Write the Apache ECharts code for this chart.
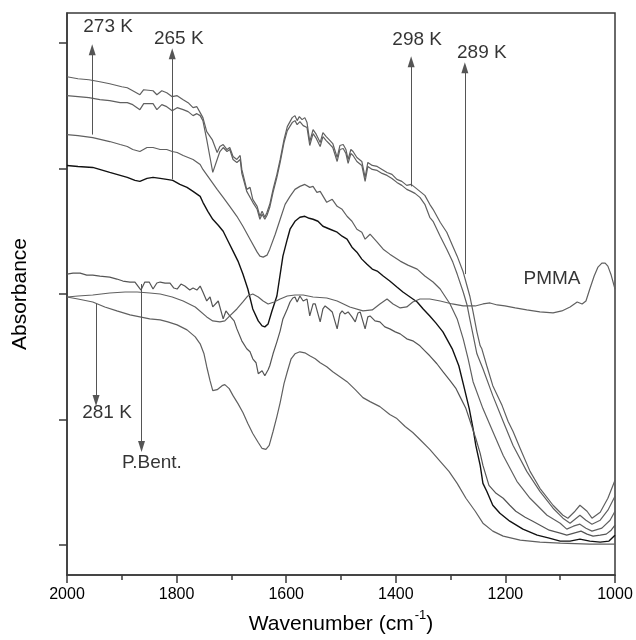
<!DOCTYPE html>
<html>
<head>
<meta charset="utf-8">
<script src="https://cdn.jsdelivr.net/npm/echarts@6/dist/echarts.min.js"></script>
<style>html,body{margin:0;padding:0;background:#fff}#c{width:636px;height:640px}</style>
</head>
<body>
<div id="c"></div>
<script>
// [wavenumber (cm-1), absorbance (arb. units)]
const s289 = [[2000,5.00],[1980,4.98],[1960,4.97],[1940,4.95],[1922,4.93],[1900,4.90],[1890,4.89],[1880,4.86],[1867,4.82],[1860,4.87],[1843,4.86],[1836,4.82],[1827,4.86],[1818,4.84],[1808,4.80],[1799,4.81],[1788,4.77],[1779,4.74],[1770,4.69],[1763,4.70],[1757,4.64],[1752,4.59],[1745,4.45],[1735,4.37],[1726,4.24],[1721,4.30],[1715,4.32],[1708,4.27],[1703,4.29],[1697,4.20],[1690,4.17],[1684,4.21],[1681,4.07],[1672,3.87],[1666,3.89],[1661,3.77],[1653,3.70],[1648,3.60],[1644,3.65],[1639,3.59],[1635,3.64],[1630,3.72],[1624,3.87],[1617,4.02],[1611,4.17],[1604,4.37],[1598,4.50],[1589,4.59],[1584,4.61],[1580,4.56],[1576,4.60],[1571,4.57],[1566,4.59],[1562,4.54],[1557,4.35],[1551,4.47],[1546,4.43],[1538,4.34],[1533,4.44],[1527,4.40],[1520,4.36],[1515,4.33],[1507,4.19],[1502,4.31],[1496,4.32],[1491,4.27],[1487,4.17],[1482,4.27],[1478,4.25],[1471,4.19],[1462,4.15],[1456,3.99],[1451,4.14],[1443,4.11],[1434,4.10],[1425,4.07],[1416,4.04],[1407,4.02],[1398,3.97],[1389,3.95],[1380,3.91],[1372,3.92],[1365,3.89],[1356,3.85],[1347,3.81],[1338,3.72],[1332,3.67],[1319,3.54],[1307,3.44],[1296,3.30],[1288,3.20],[1277,3.04],[1270,2.90],[1265,2.80],[1259,2.64],[1252,2.44],[1246,2.30],[1243,2.27],[1234,2.10],[1223,1.90],[1206,1.70],[1195,1.54],[1186,1.44],[1173,1.27],[1155,1.04],[1137,0.87],[1113,0.70],[1095,0.60],[1086,0.57],[1073,0.64],[1064,0.70],[1051,0.64],[1042,0.57],[1027,0.63],[1013,0.77],[1000,0.95]];
const s298 = [[2000,4.81],[1980,4.80],[1960,4.79],[1940,4.77],[1922,4.76],[1903,4.74],[1890,4.74],[1880,4.72],[1867,4.67],[1860,4.73],[1843,4.73],[1836,4.67],[1827,4.72],[1818,4.70],[1808,4.66],[1799,4.69],[1788,4.67],[1779,4.65],[1770,4.61],[1763,4.63],[1757,4.61],[1752,4.56],[1745,4.37],[1739,4.19],[1734,4.04],[1726,4.17],[1721,4.25],[1715,4.29],[1708,4.25],[1703,4.27],[1697,4.17],[1690,4.14],[1684,4.17],[1681,4.03],[1672,3.85],[1661,3.74],[1653,3.67],[1648,3.57],[1644,3.62],[1639,3.57],[1635,3.61],[1630,3.69],[1624,3.84],[1617,3.99],[1611,4.14],[1604,4.34],[1598,4.46],[1589,4.54],[1584,4.56],[1580,4.52],[1575,4.55],[1569,4.51],[1562,4.49],[1557,4.31],[1551,4.43],[1546,4.39],[1538,4.30],[1533,4.40],[1527,4.36],[1520,4.32],[1515,4.29],[1507,4.15],[1502,4.27],[1496,4.28],[1491,4.23],[1487,4.13],[1482,4.23],[1478,4.21],[1471,4.15],[1462,4.11],[1456,3.95],[1451,4.10],[1443,4.07],[1434,4.06],[1425,4.03],[1416,4.01],[1407,3.98],[1398,3.94],[1389,3.91],[1380,3.87],[1372,3.85],[1365,3.83],[1356,3.79],[1347,3.72],[1338,3.59],[1332,3.55],[1319,3.40],[1307,3.27],[1296,3.14],[1288,3.02],[1277,2.84],[1270,2.71],[1265,2.57],[1259,2.41],[1252,2.22],[1241,2.07],[1223,1.80],[1204,1.54],[1186,1.30],[1161,1.04],[1137,0.84],[1113,0.67],[1095,0.57],[1082,0.52],[1073,0.56],[1064,0.60],[1053,0.55],[1042,0.51],[1027,0.55],[1013,0.65],[1000,0.79]];
const s273 = [[2000,4.42],[1980,4.41],[1953,4.39],[1922,4.35],[1903,4.32],[1890,4.30],[1880,4.27],[1867,4.25],[1854,4.29],[1843,4.29],[1830,4.27],[1818,4.27],[1808,4.25],[1799,4.24],[1788,4.21],[1770,4.17],[1757,4.12],[1752,4.07],[1739,3.97],[1726,3.87],[1715,3.79],[1703,3.70],[1690,3.60],[1679,3.50],[1666,3.37],[1653,3.24],[1648,3.20],[1642,3.19],[1635,3.21],[1630,3.27],[1620,3.42],[1611,3.57],[1602,3.72],[1593,3.80],[1584,3.87],[1575,3.90],[1566,3.92],[1557,3.89],[1551,3.90],[1544,3.84],[1538,3.85],[1526,3.74],[1516,3.77],[1507,3.70],[1498,3.67],[1489,3.60],[1480,3.55],[1471,3.47],[1462,3.44],[1456,3.37],[1447,3.42],[1434,3.34],[1423,3.27],[1411,3.22],[1392,3.15],[1378,3.11],[1361,3.07],[1347,3.00],[1332,2.94],[1319,2.87],[1301,2.72],[1288,2.57],[1277,2.37],[1268,2.17],[1259,1.94],[1241,1.67],[1223,1.44],[1204,1.20],[1179,0.94],[1155,0.77],[1124,0.60],[1100,0.52],[1088,0.46],[1076,0.49],[1064,0.51],[1053,0.47],[1042,0.44],[1024,0.47],[1009,0.55],[1000,0.64]];
const s265 = [[2000,4.11],[1980,4.10],[1953,4.09],[1922,4.04],[1890,3.99],[1876,3.96],[1867,3.95],[1854,3.98],[1843,3.99],[1830,3.98],[1818,3.97],[1807,3.96],[1794,3.92],[1781,3.89],[1770,3.85],[1757,3.80],[1752,3.74],[1743,3.65],[1734,3.57],[1724,3.51],[1715,3.45],[1706,3.35],[1697,3.25],[1688,3.15],[1679,3.02],[1670,2.87],[1661,2.67],[1651,2.55],[1644,2.50],[1639,2.49],[1633,2.52],[1626,2.65],[1617,2.80],[1606,3.20],[1598,3.37],[1593,3.47],[1584,3.55],[1575,3.59],[1566,3.60],[1558,3.58],[1551,3.57],[1542,3.55],[1533,3.50],[1520,3.47],[1507,3.44],[1498,3.40],[1489,3.37],[1480,3.29],[1471,3.24],[1462,3.17],[1453,3.12],[1443,3.07],[1434,3.05],[1423,3.00],[1411,2.95],[1398,2.89],[1387,2.84],[1374,2.79],[1361,2.74],[1350,2.67],[1338,2.60],[1327,2.53],[1314,2.44],[1297,2.27],[1285,2.10],[1277,1.92],[1266,1.67],[1259,1.47],[1254,1.30],[1246,1.10],[1241,0.92],[1234,0.84],[1223,0.70],[1210,0.62],[1192,0.54],[1168,0.46],[1142,0.40],[1120,0.37],[1100,0.34],[1082,0.34],[1064,0.36],[1046,0.34],[1027,0.33],[1011,0.34],[1000,0.40]];
const sBent = [[2000,3.02],[1989,3.03],[1976,3.03],[1964,3.01],[1953,3.01],[1940,3.00],[1922,2.99],[1909,2.97],[1898,2.95],[1885,2.94],[1876,2.94],[1865,2.86],[1858,2.94],[1850,2.94],[1843,2.87],[1836,2.93],[1830,2.94],[1821,2.93],[1812,2.93],[1805,2.88],[1799,2.87],[1792,2.92],[1785,2.90],[1776,2.86],[1770,2.88],[1763,2.86],[1757,2.90],[1752,2.84],[1745,2.75],[1739,2.79],[1734,2.69],[1724,2.75],[1715,2.57],[1710,2.65],[1703,2.60],[1695,2.55],[1690,2.47],[1681,2.35],[1672,2.27],[1666,2.24],[1661,2.17],[1655,2.13],[1651,2.02],[1644,2.05],[1639,2.00],[1633,2.06],[1630,2.10],[1624,2.22],[1617,2.34],[1611,2.45],[1606,2.57],[1598,2.67],[1593,2.74],[1588,2.78],[1584,2.79],[1580,2.74],[1575,2.80],[1569,2.75],[1562,2.77],[1557,2.60],[1551,2.72],[1547,2.72],[1538,2.54],[1533,2.67],[1529,2.70],[1522,2.67],[1516,2.64],[1507,2.47],[1502,2.62],[1498,2.65],[1493,2.62],[1487,2.64],[1480,2.59],[1474,2.54],[1469,2.63],[1465,2.64],[1456,2.47],[1451,2.59],[1447,2.60],[1438,2.55],[1429,2.54],[1420,2.49],[1411,2.47],[1401,2.44],[1392,2.42],[1380,2.37],[1369,2.35],[1356,2.30],[1347,2.25],[1338,2.20],[1325,2.12],[1314,2.04],[1301,1.95],[1290,1.87],[1281,1.77],[1272,1.67],[1263,1.52],[1254,1.37],[1246,1.22],[1241,1.10],[1230,0.90],[1217,0.82],[1204,0.77],[1192,0.70],[1181,0.64],[1164,0.58],[1150,0.54],[1120,0.45],[1100,0.42],[1088,0.40],[1075,0.42],[1062,0.44],[1051,0.41],[1040,0.39],[1027,0.40],[1016,0.41],[1007,0.45],[1000,0.50]];
const sPMMA = [[2000,2.79],[1980,2.80],[1953,2.81],[1922,2.83],[1894,2.84],[1872,2.84],[1849,2.83],[1830,2.82],[1808,2.79],[1788,2.75],[1766,2.69],[1745,2.59],[1734,2.55],[1721,2.54],[1712,2.55],[1703,2.60],[1690,2.67],[1679,2.74],[1670,2.80],[1661,2.82],[1651,2.79],[1642,2.75],[1633,2.72],[1622,2.74],[1611,2.77],[1598,2.80],[1584,2.81],[1569,2.81],[1551,2.79],[1526,2.78],[1507,2.75],[1484,2.69],[1460,2.65],[1443,2.66],[1429,2.72],[1416,2.77],[1405,2.72],[1392,2.68],[1380,2.69],[1369,2.74],[1356,2.77],[1338,2.77],[1319,2.75],[1297,2.72],[1277,2.70],[1255,2.70],[1241,2.72],[1228,2.73],[1215,2.71],[1201,2.70],[1182,2.68],[1161,2.66],[1137,2.64],[1113,2.63],[1097,2.65],[1082,2.69],[1069,2.74],[1060,2.72],[1053,2.75],[1046,2.87],[1038,3.00],[1031,3.09],[1024,3.13],[1018,3.13],[1013,3.10],[1007,3.01],[1000,2.87]];
const s281 = [[2000,2.79],[1980,2.77],[1953,2.74],[1931,2.69],[1909,2.65],[1885,2.61],[1867,2.59],[1849,2.57],[1830,2.56],[1816,2.54],[1799,2.51],[1781,2.46],[1766,2.39],[1757,2.32],[1750,2.22],[1745,2.09],[1739,1.95],[1734,1.85],[1726,1.86],[1717,1.90],[1712,1.91],[1704,1.87],[1697,1.80],[1688,1.72],[1679,1.63],[1670,1.52],[1661,1.42],[1651,1.33],[1644,1.27],[1637,1.26],[1631,1.30],[1624,1.44],[1617,1.59],[1611,1.73],[1604,1.92],[1598,2.04],[1591,2.17],[1584,2.22],[1575,2.24],[1566,2.23],[1557,2.20],[1547,2.17],[1538,2.13],[1526,2.09],[1515,2.04],[1502,1.99],[1489,1.94],[1474,1.86],[1460,1.78],[1447,1.74],[1429,1.69],[1411,1.61],[1398,1.57],[1383,1.49],[1369,1.43],[1356,1.36],[1338,1.26],[1319,1.14],[1303,1.04],[1288,0.92],[1272,0.77],[1255,0.64],[1241,0.52],[1223,0.44],[1204,0.39],[1173,0.35],[1137,0.33],[1100,0.32],[1046,0.31],[1000,0.31]];

// annotations: [label, text x, text y]
const labelTexts = [['273 K',1925,5.50],['265 K',1796,5.38],['298 K',1361,5.37],['289 K',1243,5.24],['PMMA',1115,2.97],['281 K',1927,1.63],['P.Bent.',1845,1.13]];
// arrows: [x, y from, y to (tip)]
const arrows = [[1954,4.42,5.27],[1808,3.97,5.23],[1372,3.90,5.15],[1274,3.02,5.09],[1947,2.72,1.75],[1864,2.92,1.29]];
const yTicks = [0.30,1.56,2.82,4.08,5.34];
const xTicks = {min:1000,max:2000,interval:200};

const FONT = 'Liberation Sans, Arial, Helvetica, sans-serif';
function lineSeries(name, data, color, w) {
  return {name, type:'line', data, showSymbol:false, symbol:'none', silent:true,
    lineStyle:{color, width:w}, animation:false, z:3};
}
const chart = echarts.init(document.getElementById('c'), null, {renderer:'canvas'});
chart.setOption({
  animation:false,
  backgroundColor:'#fff',
  grid:{left:67, top:13, right:21, bottom:63, show:true, borderColor:'#3a3a3a', borderWidth:1.5, backgroundColor:'transparent'},
  xAxis:{type:'value', inverse:true, min:xTicks.min, max:xTicks.max, interval:xTicks.interval,
    name:'{a|Wavenumber (cm}{s|-1}{a|)}', nameLocation:'middle', nameGap:34,
    nameTextStyle:{rich:{a:{fontSize:21, fontFamily:FONT, color:'#000', lineHeight:26, verticalAlign:'bottom'},
                          s:{fontSize:13, fontFamily:FONT, color:'#000', lineHeight:26, verticalAlign:'top', padding:[0,0,0,1]}}},
    axisLine:{lineStyle:{color:'#3a3a3a', width:1.5}},
    axisTick:{length:8, lineStyle:{color:'#3a3a3a', width:1.5}},
    minorTick:{show:true, splitNumber:2, length:5, lineStyle:{color:'#3a3a3a', width:1.5}},
    axisLabel:{fontSize:16, fontFamily:FONT, color:'#000', margin:12, formatter:v=>String(v)},
    splitLine:{show:false}},
  yAxis:{type:'value', min:0, max:5.64,
    name:'Absorbance', nameLocation:'middle', nameGap:36, nameRotate:90,
    nameTextStyle:{fontSize:21, fontFamily:FONT, color:'#000'},
    axisLine:{show:true, lineStyle:{color:'#3a3a3a', width:1.5}},
    axisTick:{show:true, length:8, customValues:yTicks, lineStyle:{color:'#3a3a3a', width:1.5}},
    axisLabel:{show:false, customValues:yTicks},
    splitLine:{show:false}},
  series:[
    lineSeries('289 K', s289, '#606060', 1.2),
    lineSeries('298 K', s298, '#606060', 1.2),
    lineSeries('273 K', s273, '#606060', 1.2),
    lineSeries('265 K', s265, '#111111', 1.4),
    lineSeries('P.Bent.', sBent, '#555555', 1.2),
    lineSeries('PMMA', sPMMA, '#606060', 1.2),
    lineSeries('281 K', s281, '#606060', 1.2),
    {type:'scatter', silent:true, symbolSize:1, itemStyle:{color:'#fff'},
      data:labelTexts.map(t=>({value:[t[1],t[2]], name:t[0]})),
      label:{show:true, position:'inside', formatter:p=>p.name, fontSize:19, fontFamily:FONT, color:'#000'}, z:5},
    {type:'line', data:[], silent:true, z:4,
      markLine:{silent:true, symbol:['none','triangle'], symbolSize:[7,11], animation:false,
        label:{show:false},
        lineStyle:{color:'#555', width:1, type:'solid'},
        data:arrows.map(a=>[{coord:[a[0],a[1]]},{coord:[a[0],a[2]]}])}}
  ]
});
</script>
</body>
</html>
